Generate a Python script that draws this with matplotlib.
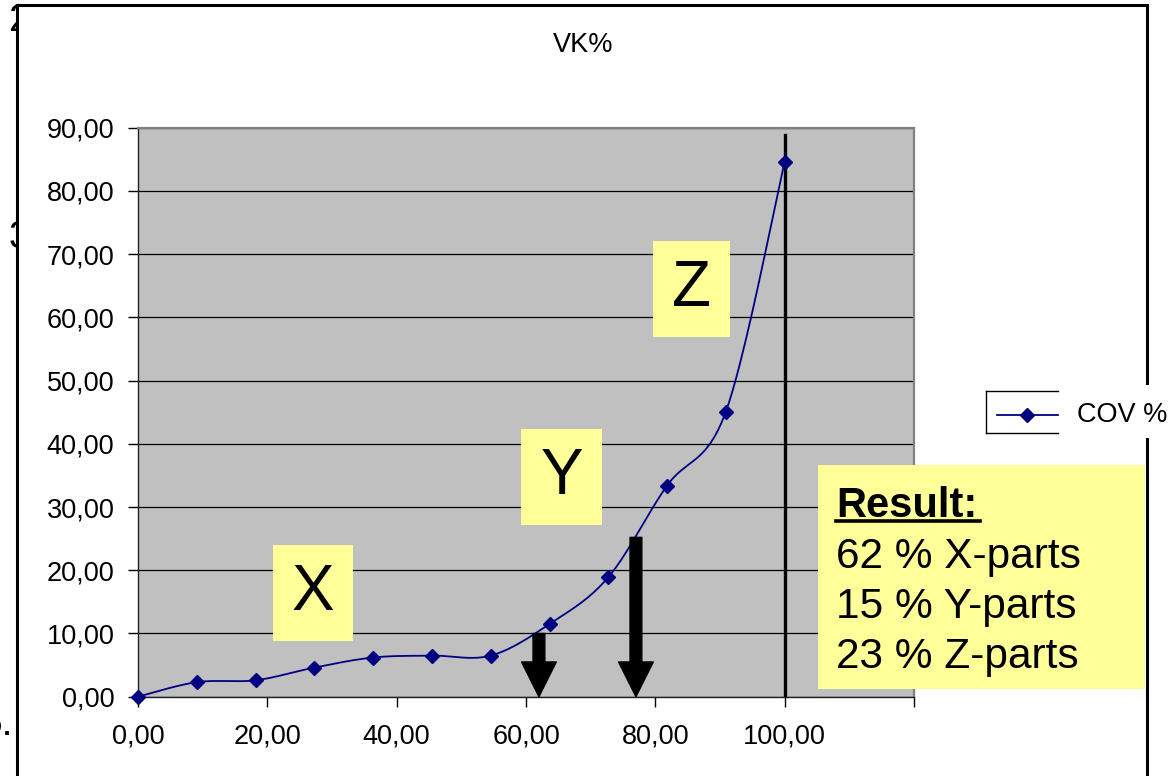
import numpy as np
import matplotlib
matplotlib.use("Agg")
import matplotlib.pyplot as plt
from matplotlib.patches import Rectangle
from matplotlib.lines import Line2D
from matplotlib.ticker import FuncFormatter
from matplotlib.transforms import Bbox, TransformedBbox

plt.rcParams["font.family"] = ["Liberation Sans", "DejaVu Sans"]

# ---- data -------------------------------------------------------------
title = "VK%"
series_name = "COV %"
cum_share = [0.00, 9.09, 18.18, 27.27, 36.36, 45.45, 54.55,
             63.64, 72.73, 81.82, 90.91, 100.00]
cov_pct = [0.0, 2.3, 2.6, 4.6, 6.2, 6.5, 6.5,
           11.5, 18.9, 33.4, 45.1, 84.6]
x_share = 62          # share of X-parts
y_share = 15          # share of Y-parts
z_share = 23          # share of Z-parts
class_labels = ["X", "Y", "Z"]
result_title = "Result:"
result_lines = [f"{x_share} % X-parts", f"{y_share} % Y-parts", f"{z_share} % Z-parts"]
x_ticks = [0, 20, 40, 60, 80, 100, 120]
y_ticks = [0, 10, 20, 30, 40, 50, 60, 70, 80, 90]

# ---- helpers ----------------------------------------------------------
W, H = 1176, 776


def fx(px):
    return px / W


def fy(py):
    return 1 - py / H


def smooth_curve(x, y, n=24):
    """Piecewise cubic Bezier through the points (spreadsheet-style smoothing)."""
    pts = np.column_stack([x, y]).astype(float)
    P = np.vstack([pts[0], pts, pts[-1]])
    out = []
    t = np.linspace(0, 1, n)[:, None]
    for i in range(len(pts) - 1):
        p0, p1, p2, p3 = P[i], P[i + 1], P[i + 2], P[i + 3]
        c1 = p1 + (p2 - p0) / 6
        c2 = p2 - (p3 - p1) / 6
        seg = ((1 - t) ** 3) * p1 + 3 * ((1 - t) ** 2) * t * c1 \
            + 3 * (1 - t) * t ** 2 * c2 + t ** 3 * p2
        out.append(seg if i == 0 else seg[1:])
    out = np.vstack(out)
    return out[:, 0], out[:, 1]


def comma_fmt(v, _pos):
    if v > 100.5:
        return ""
    return f"{v:.2f}".replace(".", ",")


# ---- figure -----------------------------------------------------------
fig = plt.figure(figsize=(W / 100, H / 100), dpi=100)
fig.patch.set_facecolor("white")

ax = fig.add_axes([fx(138), fy(696.7), fx(914) - fx(138), fy(127.7) - fy(696.7)])
ax.set_facecolor("#C0C0C0")
ax.set_xlim(0, 120)
ax.set_ylim(0, 90)
ax.set_xticks(x_ticks)
ax.set_yticks(y_ticks)
ax.xaxis.set_major_formatter(FuncFormatter(comma_fmt))
ax.yaxis.set_major_formatter(FuncFormatter(comma_fmt))
ax.tick_params(axis="both", direction="out", length=7, width=1,
               labelsize=19.5, colors="black")
ax.tick_params(axis="y", pad=10)
ax.tick_params(axis="x", pad=12)
ax.grid(axis="y", color="black", linewidth=0.9)
ax.set_axisbelow(True)
for side in ("top", "right"):
    ax.spines[side].set_color("#808080")
    ax.spines[side].set_linewidth(1.6)
for side in ("left", "bottom"):
    ax.spines[side].set_color("#202020")
    ax.spines[side].set_linewidth(1.0)

# curve with markers
sx, sy = smooth_curve(cum_share, cov_pct)
ax.plot(sx, sy, color="#000080", linewidth=1.3, zorder=4, clip_on=False)
ax.plot(cum_share, cov_pct, linestyle="none", marker="D", markersize=7,
        color="#000080", zorder=5, clip_on=False)

# 100 % cut-off line
ax.plot([100, 100], [0, 88.9], color="black", linewidth=2.4, zorder=3)

# arrows marking the class borders
for xb, ytop in ((x_share, 10.0), (x_share + y_share, 25.2)):
    ax.annotate("", xy=(xb, 0), xytext=(xb, ytop),
                arrowprops=dict(facecolor="black", edgecolor="black",
                                width=8.5, headwidth=25, headlength=25,
                                shrink=0.0),
                zorder=6)

# class label boxes
label_boxes = {"X": (20.9, 8.8, 12.4, 15.2),
               "Y": (59.3, 27.2, 12.5, 15.1),
               "Z": (79.6, 56.9, 12.0, 15.2)}
for lab in class_labels:
    x0, y0, w, h = label_boxes[lab]
    ax.add_patch(Rectangle((x0, y0), w, h, facecolor="#FFFF99",
                           edgecolor="none", zorder=4))
    ax.text(x0 + w / 2, y0 + h / 2, lab, ha="center", va="center",
            fontsize=46, color="black", zorder=5)

# title
fig.text(fx(583), fy(45), title, ha="center", va="center", fontsize=19.5)

# result box
fig.add_artist(Rectangle((fx(818), fy(689)), fx(1145) - fx(818), fy(465) - fy(689),
                         transform=fig.transFigure, facecolor="#FFFF99",
                         edgecolor="none", zorder=5))
fig.text(fx(836), fy(517), result_title, ha="left", va="baseline",
         fontsize=30, fontweight="bold", zorder=6)
fig.add_artist(Line2D([fx(836), fx(980)], [fy(521), fy(521)],
                      transform=fig.transFigure, color="black",
                      linewidth=2.6, zorder=6))
for i, line in enumerate(result_lines):
    fig.text(fx(836), fy(568 + 50 * i), line, ha="left", va="baseline",
             fontsize=30.5, zorder=6)

# slide frame
frame_kw = dict(transform=fig.transFigure, color="black", linewidth=2.2, zorder=4)
fig.add_artist(Line2D([fx(17), fx(17)], [0, fy(5)], **frame_kw))
fig.add_artist(Line2D([fx(17), fx(1147)], [fy(5), fy(5)], **frame_kw))
fig.add_artist(Line2D([fx(1147), fx(1147)], [0, fy(5)], **frame_kw))

# partially hidden slide text at the left edge
clip = TransformedBbox(Bbox([[0, 0], [fx(15.5), 1]]), fig.transFigure)
for s, xp, yp in (("2", 9, 31), ("3", 9, 248), ("5.", 13, 735)):
    t = fig.text(fx(xp), fy(yp), s, ha="left" if s != "5." else "right",
                 va="baseline", fontsize=28, zorder=3)
    t.set_clip_box(clip)
    t.set_clip_on(True)

# legend
fig.add_artist(Rectangle((fx(1060), fy(438)), fx(1176) - fx(1060), fy(385) - fy(438),
                         transform=fig.transFigure, facecolor="white",
                         edgecolor="none", zorder=5))
lg_kw = dict(transform=fig.transFigure, color="black", linewidth=1.0, zorder=6)
fig.add_artist(Line2D([fx(986), fx(1058)], [fy(390.5), fy(390.5)], **lg_kw))
fig.add_artist(Line2D([fx(986), fx(1058)], [fy(433.3), fy(433.3)], **lg_kw))
fig.add_artist(Line2D([fx(986), fx(986)], [fy(390.5), fy(433.3)], **lg_kw))
fig.add_artist(Line2D([fx(997), fx(1058)], [fy(414.7), fy(414.7)],
                      transform=fig.transFigure, color="#000080",
                      linewidth=1.3, zorder=6))
fig.add_artist(Line2D([fx(1027)], [fy(414.7)], transform=fig.transFigure,
                      marker="D", markersize=7, color="#000080",
                      linestyle="none", zorder=7))
fig.text(fx(1077), fy(414.7), series_name, ha="left", va="center",
         fontsize=19.5, zorder=7)

fig.savefig("out.png", dpi=100)
